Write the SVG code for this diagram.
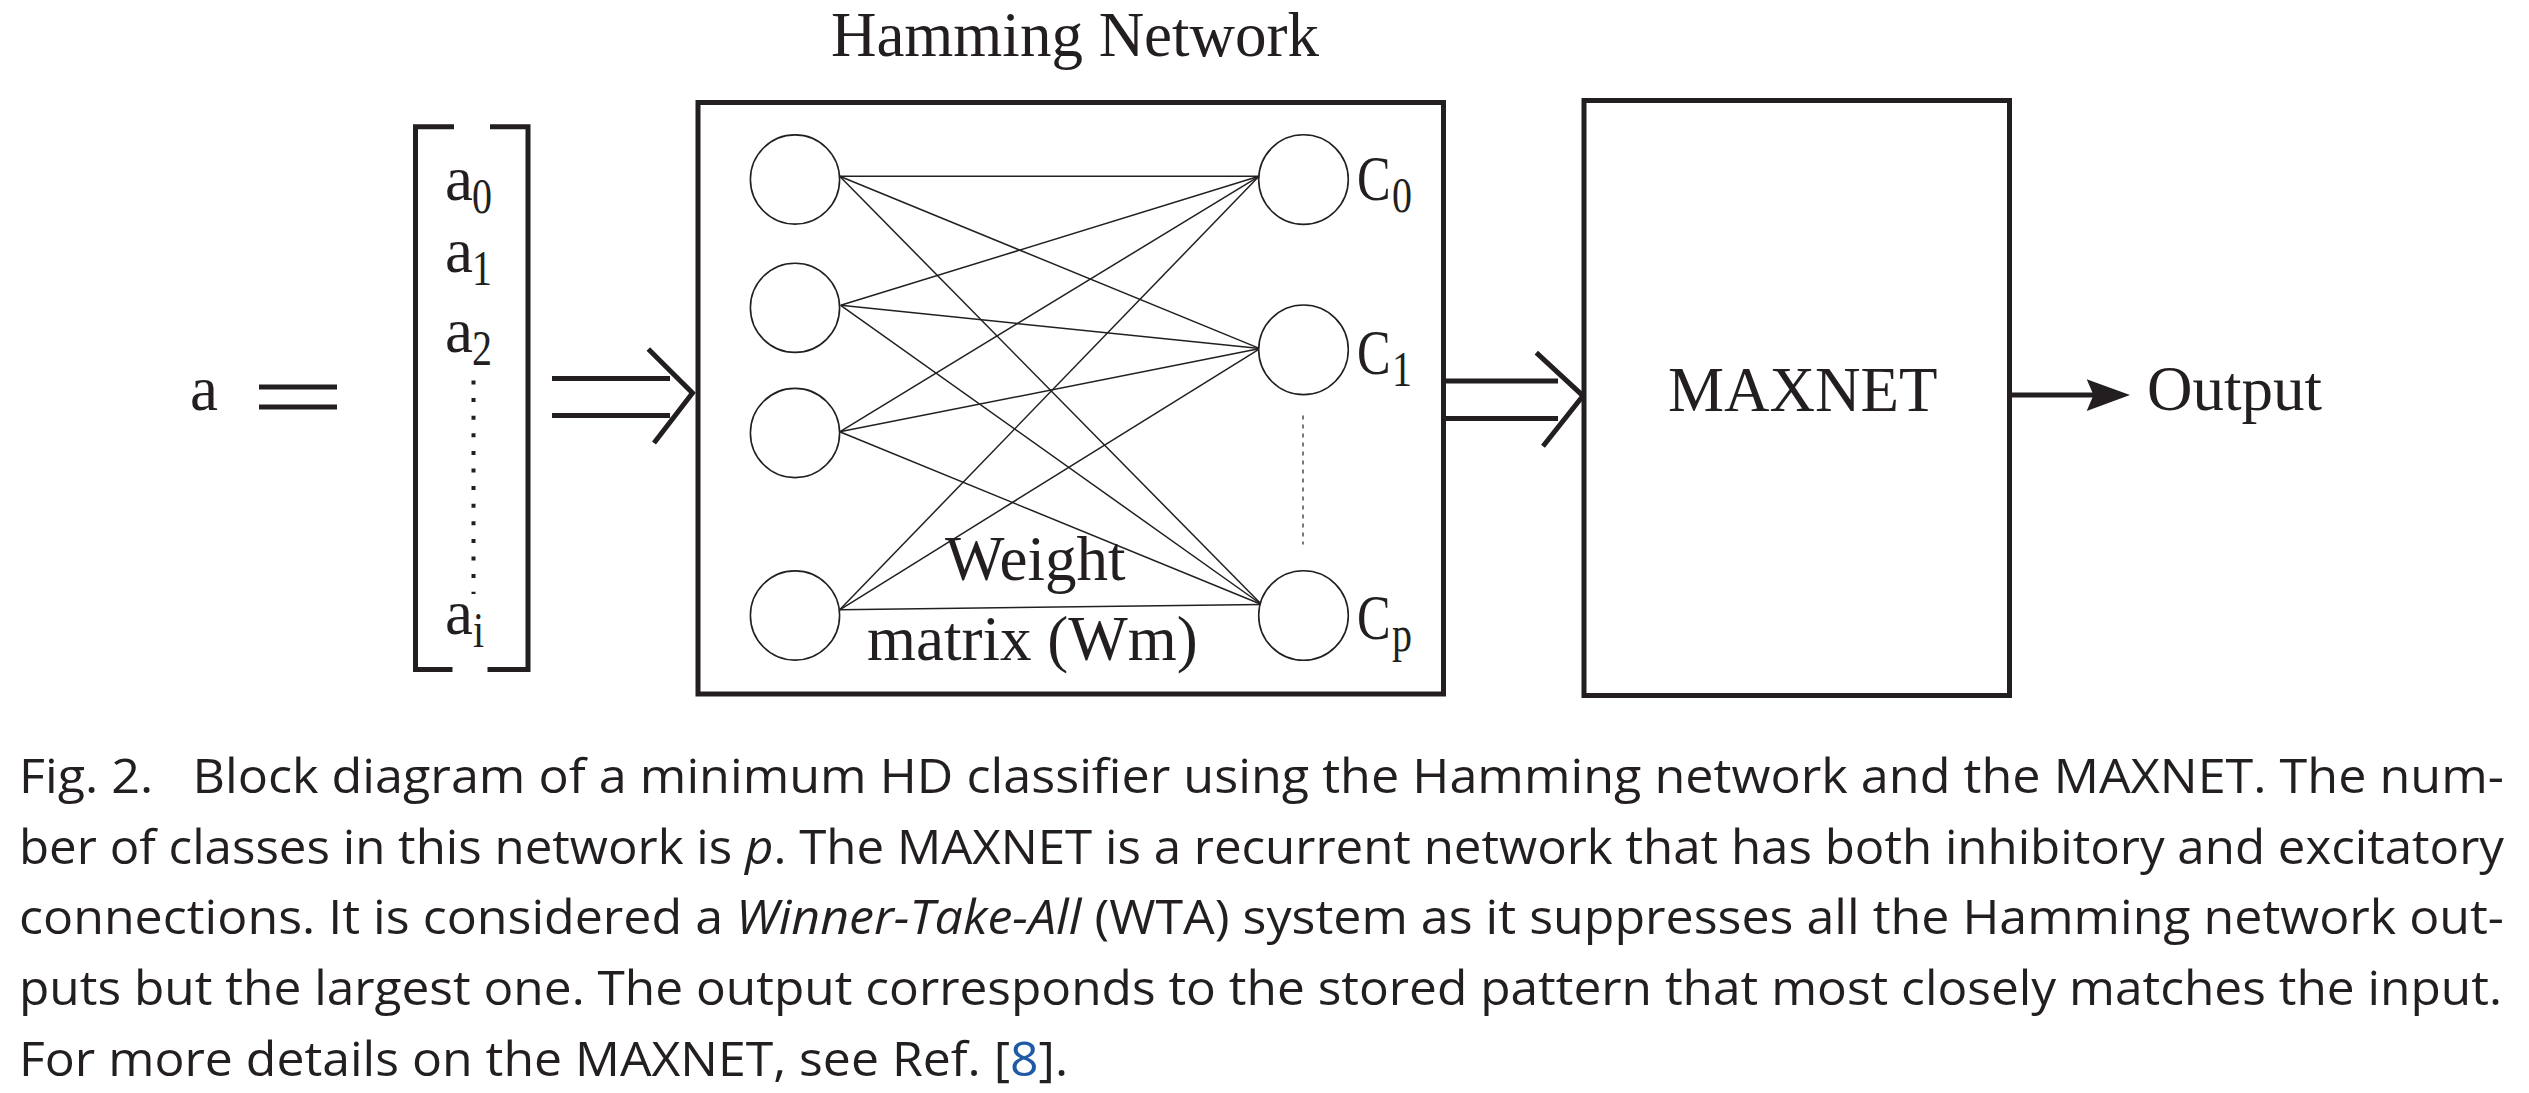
<svg xmlns="http://www.w3.org/2000/svg" width="2529" height="1093" viewBox="0 0 2529 1093">
<style>
.lbl{font-family:"Liberation Serif","Times New Roman",serif;fill:#231f20;}
.big{font-size:63px;}
.sub{font-size:50px;}
.thick{stroke:#231f20;stroke-width:5;fill:none;}
.node{stroke:#231f20;stroke-width:1.6;fill:#fff;}
.w{stroke:#231f20;stroke-width:1.5;fill:none;}
.cap{font-family:"Open Sans","Noto Sans","Liberation Sans",sans-serif;font-size:48px;fill:#231f20;}
</style>
<rect width="2529" height="1093" fill="#fff"/>

<g id="title"><text class="lbl big" x="1075" y="56" text-anchor="middle">Hamming Network</text></g>

<g id="vector-a">
  <text class="lbl big" x="190" y="410">a</text>
  <line class="thick" x1="259" y1="387" x2="337" y2="387"/>
  <line class="thick" x1="259" y1="407" x2="337" y2="407"/>
  <path class="thick" d="M454,126.7 H415.5 V669.4 H452.5" stroke-width="4.5"/>
  <path class="thick" d="M490,126.7 H528 V669.4 H487.5" stroke-width="4.5"/>
  <text class="lbl big" x="445" y="200">a</text><text class="lbl sub" transform="translate(472,213) scale(0.8,1)">0</text>
  <text class="lbl big" x="445" y="271.5">a</text><text class="lbl sub" transform="translate(472,284.5) scale(0.8,1)">1</text>
  <text class="lbl big" x="445" y="351.5">a</text><text class="lbl sub" transform="translate(472,364.5) scale(0.8,1)">2</text>
  <line x1="473.5" y1="380.5" x2="473.5" y2="594" stroke="#231f20" stroke-width="4" stroke-dasharray="4 13.6"/>
  <text class="lbl big" x="445" y="633.5">a</text><text class="lbl sub" transform="translate(473,646.5) scale(0.8,1)">i</text>
</g>

<g id="connectors">
  <g id="arrow-in">
    <line class="thick" x1="552" y1="378.5" x2="670" y2="378.5"/>
    <line class="thick" x1="552" y1="415.5" x2="670" y2="415.5"/>
    <polyline class="thick" stroke-width="4.5" points="648.3,349 692.5,393 654,443"/>
  </g>
  <g id="weights">
    <line class="w" x1="839.7" y1="176.3" x2="1259" y2="176.3"/>
    <line class="w" x1="839.7" y1="176.3" x2="1260" y2="348.6"/>
    <line class="w" x1="839.7" y1="176.3" x2="1261.6" y2="604.5"/>
    <line class="w" x1="840.7" y1="305.3" x2="1259" y2="176.3"/>
    <line class="w" x1="840.7" y1="305.3" x2="1260" y2="348.6"/>
    <line class="w" x1="840.7" y1="305.3" x2="1261.6" y2="604.5"/>
    <line class="w" x1="839.7" y1="431.8" x2="1259" y2="176.3"/>
    <line class="w" x1="839.7" y1="431.8" x2="1260" y2="348.6"/>
    <line class="w" x1="839.7" y1="431.8" x2="1261.6" y2="604.5"/>
    <line class="w" x1="839.7" y1="609.8" x2="1259" y2="176.3"/>
    <line class="w" x1="839.7" y1="609.8" x2="1260" y2="348.6"/>
    <line class="w" x1="839.7" y1="609.8" x2="1261.6" y2="604.5"/>
  </g>
  <line x1="1303" y1="415.5" x2="1303" y2="544.5" stroke="#231f20" stroke-width="1.2" stroke-dasharray="4 5"/>
  <g id="arrow-mid">
    <line class="thick" x1="1444" y1="381" x2="1558" y2="381"/>
    <line class="thick" x1="1444" y1="418.5" x2="1558" y2="418.5"/>
    <polyline class="thick" stroke-width="4.5" points="1536.3,352.6 1583,395.8 1543,446.3"/>
  </g>
  <g id="arrow-out">
    <line class="thick" x1="2010" y1="395" x2="2095" y2="395"/>
    <polygon points="2086.7,379.3 2130,395 2086.7,411 2093.5,395" fill="#231f20"/>
  </g>
</g>

<g id="hamming-network">
  <rect class="thick" x="698" y="102.5" width="745.5" height="591.5"/>
  <g id="inputs">
    <circle class="node" cx="795" cy="179.5" r="44.6"/>
    <circle class="node" cx="795" cy="307.8" r="44.6"/>
    <circle class="node" cx="795" cy="433" r="44.6"/>
    <circle class="node" cx="795" cy="615.5" r="44.6"/>
  </g>
  <g id="outputs">
    <circle class="node" cx="1303.5" cy="179.6" r="44.8"/>
    <circle class="node" cx="1303.5" cy="349.8" r="44.8"/>
    <circle class="node" cx="1303.5" cy="615.5" r="44.8"/>
    <text class="lbl big" transform="translate(1357,200) scale(0.8,1)">C</text><text class="lbl sub" transform="translate(1392,211.7) scale(0.8,1)">0</text>
    <text class="lbl big" transform="translate(1357,374) scale(0.8,1)">C</text><text class="lbl sub" transform="translate(1392,386) scale(0.8,1)">1</text>
    <text class="lbl big" transform="translate(1357,639) scale(0.8,1)">C</text><text class="lbl sub" transform="translate(1392,651) scale(0.8,1)">p</text>
  </g>
  <text class="lbl big" x="945" y="580">Weight</text>
  <text class="lbl big" x="867" y="659.5">matrix (Wm)</text>
</g>

<g id="maxnet">
  <rect class="thick" x="1584" y="100.5" width="425.5" height="595"/>
  <text class="lbl big" x="1668" y="411">MAXNET</text>
</g>

<g id="output"><text class="lbl big" x="2147" y="410">Output</text></g>

<g id="caption">
  <text class="cap" x="19" y="793" textLength="2485" lengthAdjust="spacingAndGlyphs">Fig. 2.&#160;&#160; Block diagram of a minimum HD classifier using the Hamming network and the MAXNET. The num-</text>
  <text class="cap" x="19" y="864" textLength="2485" lengthAdjust="spacingAndGlyphs">ber of classes in this network is <tspan font-style="italic">p</tspan>. The MAXNET is a recurrent network that has both inhibitory and excitatory</text>
  <text class="cap" x="19" y="934" textLength="2485" lengthAdjust="spacingAndGlyphs">connections. It is considered a <tspan font-style="italic">Winner-Take-All</tspan> (WTA) system as it suppresses all the Hamming network out-</text>
  <text class="cap" x="19" y="1005" textLength="2483" lengthAdjust="spacingAndGlyphs">puts but the largest one. The output corresponds to the stored pattern that most closely matches the input.</text>
  <text class="cap" x="19" y="1076" textLength="1049" lengthAdjust="spacingAndGlyphs">For more details on the MAXNET, see Ref. [<tspan fill="#1f5aa6">8</tspan>].</text>
</g>
</svg>
